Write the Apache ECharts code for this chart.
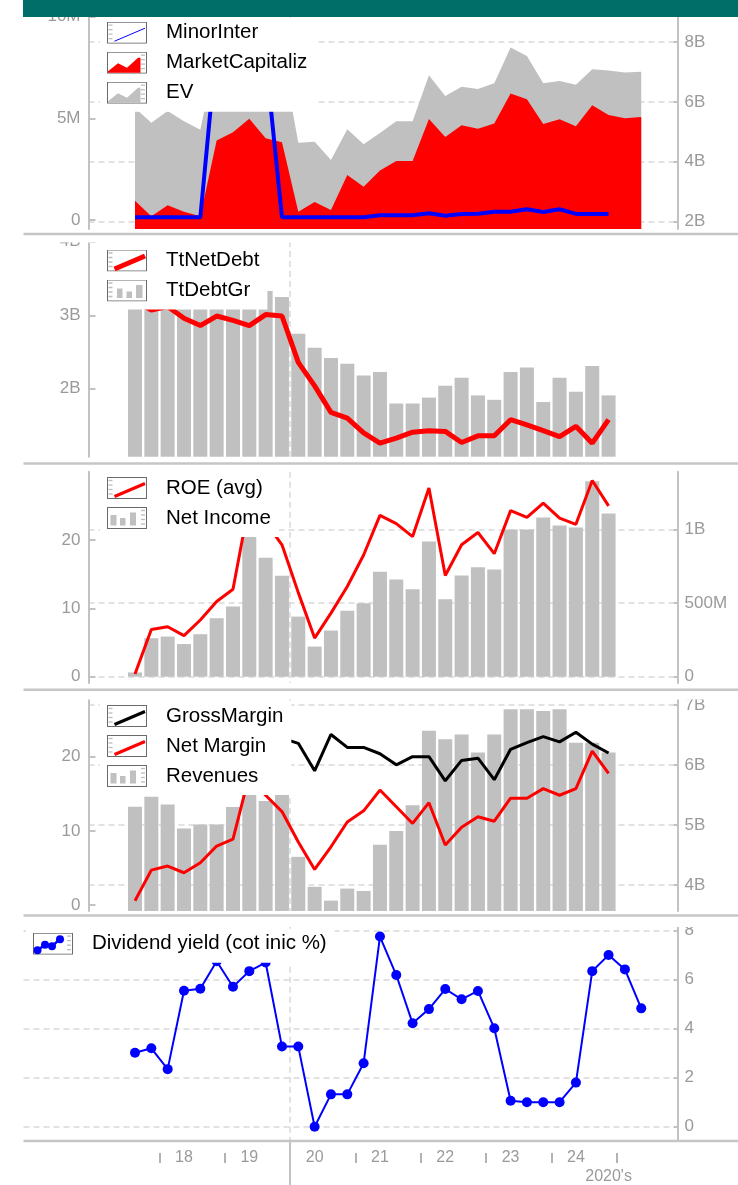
<!DOCTYPE html>
<html><head><meta charset="utf-8">
<script src="https://cdn.jsdelivr.net/npm/echarts@6/dist/echarts.min.js"></script>
<style>html,body{margin:0;padding:0;background:#fff}#c{width:738px;height:1185px}</style>
</head><body><div id="c"></div>
<script>
// ---------------- DATA ----------------
const quarters = ['2017Q3','2017Q4','2018Q1','2018Q2','2018Q3','2018Q4','2019Q1','2019Q2','2019Q3','2019Q4',
  '2020Q1','2020Q2','2020Q3','2020Q4','2021Q1','2021Q2','2021Q3','2021Q4','2022Q1','2022Q2','2022Q3','2022Q4',
  '2023Q1','2023Q2','2023Q3','2023Q4','2024Q1','2024Q2','2024Q3','2024Q4','2025Q1','2025Q2'];
// panel 1 (MinorInter in millions, others in billions)
const minorInter = [0.13,0.13,0.13,0.13,0.13,8.6,8.6,8.6,8.0,0.13,0.13,0.13,0.13,0.13,0.13,0.23,0.23,0.23,0.33,0.21,0.30,0.31,0.41,0.41,0.53,0.39,0.53,0.30,0.30,0.30];
const marketCap = [2.70,2.18,2.55,2.33,2.18,4.71,4.99,5.44,4.79,4.65,2.33,2.66,2.39,3.56,3.17,3.71,4.03,4.03,5.43,4.83,5.22,5.10,5.28,6.28,6.09,5.26,5.42,5.19,5.89,5.56,5.45,5.50];
const ev = [5.80,5.30,5.70,5.35,5.07,7.65,7.85,8.35,7.65,7.65,4.64,4.67,4.06,5.09,4.59,4.96,5.35,5.35,6.89,6.20,6.51,6.43,6.62,7.82,7.53,6.62,6.70,6.57,7.09,7.05,6.98,7.01];
// panel 2 (billions)
const netDebt = [3.20,3.07,3.12,2.96,2.86,2.99,2.93,2.86,3.01,2.99,2.36,2.04,1.68,1.60,1.40,1.26,1.33,1.41,1.43,1.42,1.27,1.36,1.36,1.58,1.51,1.43,1.35,1.49,1.26,1.58];
const grossDebt = [3.40,3.45,3.50,3.45,3.40,3.35,3.40,3.50,3.33,3.25,2.75,2.56,2.42,2.34,2.18,2.23,1.80,1.80,1.88,2.04,2.15,1.91,1.85,2.23,2.29,1.82,2.15,1.96,2.31,1.91];
// panel 3 (ROE %, net income billions)
const roe = [0.4,6.9,7.3,6.0,8.3,11.0,12.8,25.5,22.6,19.3,12.3,5.65,9.3,13.2,17.8,23.6,22.4,20.5,27.6,14.8,19.3,21.1,18.0,24.3,23.3,25.4,23.2,22.3,28.7,25.0];
const netIncome = [0.029,0.262,0.273,0.222,0.289,0.398,0.477,1.0,0.809,0.687,0.409,0.205,0.314,0.449,0.50,0.714,0.662,0.595,0.92,0.527,0.689,0.744,0.730,1.001,1.001,1.083,1.028,1.015,1.329,1.11];
// panel 4 (margins %, revenues billions)
const grossMargin = [23.0,23.5,24.0,23.2,22.8,23.0,24.0,25.0,24.0,22.5,21.8,18.1,23.0,21.25,21.25,20.4,18.9,20.0,20.0,16.75,19.5,19.8,16.9,21.0,21.9,22.7,22.0,23.3,21.7,20.5];
const netMargin = [0.58,4.7,5.25,4.35,5.7,7.95,8.9,17.5,14.8,12.6,8.5,4.8,7.85,11.2,12.7,15.5,13.25,11.0,13.8,8.1,10.5,11.9,11.3,14.4,14.4,15.7,14.8,15.7,20.75,17.75];
const revenues = [5.305,5.47,5.34,4.94,5.01,5.01,5.30,5.60,5.40,5.60,4.47,3.97,3.74,3.94,3.90,4.67,4.90,5.33,6.57,6.43,6.51,6.21,6.51,6.93,6.93,6.90,6.93,6.37,6.37,6.21];
// panel 5 (%)
const divYield = [3.02,3.2,2.35,5.55,5.63,6.75,5.71,6.35,6.7,3.27,3.27,0,1.32,1.32,2.59,7.76,6.19,4.22,4.8,5.62,5.2,5.54,4.02,1.06,1.0,1.0,1.0,1.8,6.35,7.01,6.42,4.83];
// tick values
const p1LeftTicks = [0,5,10], p1RightTicks = [2,4,6,8];
const p2Ticks = [2,3,4];
const p3LeftTicks = [0,10,20], p3RightTicks = [0,0.5,1];
const p4LeftTicks = [0,10,20], p4RightTicks = [4,5,6,7];
const p5Ticks = [0,2,4,6,8];
const decadeLabel = "2020's";

// ---------------- LAYOUT ----------------
const FONT = "'Liberation Sans', Arial, Helvetica, sans-serif";
const LBL = '#9a9a9a', AX = '#c2c2c2', GRIDC = '#d9d9d9';
const X0 = 135, DX = 16.33;            // pixel of first category and spacing
const L = 88.5, R = 677.6, L5 = 23.5;
const xr = (left) => ({min: (left - X0) / DX, max: (R - X0) / DX});
const pairs = arr => arr.map((v, i) => [i, v]);
const decadePos = quarters.indexOf('2020Q1') - 0.5;
const yearBounds = quarters.map((q,i)=>q.endsWith('Q1')? i-0.5 : null).filter(v=>v!==null && v!==decadePos);
const yearLabelPos = quarters.map((q,i)=>q.endsWith('Q2') && !q.startsWith('2017') && !q.startsWith('2025') ? i : null).filter(v=>v!==null);
const decadeLabelPos = quarters.indexOf('2024Q4');

const grids = [
  {left: L, width: R - L, top: 16, height: 213},
  {left: L, width: R - L, top: 241, height: 215.7},
  {left: L, width: R - L, top: 471.7, height: 211.3},
  {left: L, width: R - L, top: 698, height: 213},
  {left: L5, width: R - L5, top: 926.7, height: 213.3}
];

function hiddenX(gi, left) {
  const r = xr(left);
  return {type: 'value', gridIndex: gi, min: r.min, max: r.max, position: 'bottom',
    axisLine: {show: false, onZero: false}, axisLabel: {show: false},
    axisTick: {show: false, customValues: [decadePos]},
    splitLine: {show: true, lineStyle: {color: GRIDC, width: 1.5, type: [6, 4]}}};
}
function yAx(gi, pos, min, max, ticks, fmt, split) {
  return {type: 'value', gridIndex: gi, position: pos, min, max,
    axisLine: {show: true, onZero: false, lineStyle: {color: AX, width: 2}},
    axisTick: {show: true, inside: true, length: pos === 'left' ? 7 : 4, customValues: ticks, lineStyle: {color: AX, width: 2}},
    axisLabel: {customValues: ticks, formatter: fmt, color: LBL, fontSize: 17, fontFamily: FONT, margin: pos === 'left' ? 8 : 7},
    splitLine: {show: !!split, lineStyle: {color: GRIDC, width: 1.5, type: [6, 4]}}};
}
const fmtM = v => v === 0 ? '0' : v + 'M';
const fmtB = v => v === 0 ? '0' : v + 'B';
const fmtMB = v => v === 0 ? '0' : (v < 1 ? Math.round(v * 1000) + 'M' : v + 'B');
const fmtN = v => String(v);

function svgIcon(inner) {
  return 'image://data:image/svg+xml;charset=utf-8,' + encodeURIComponent(
    '<svg xmlns="http://www.w3.org/2000/svg" width="40" height="22" viewBox="0 0 40 22">' +
    '<rect x="0.5" y="0.5" width="39" height="21" fill="#fff" stroke="#6a6a6a" stroke-width="1"/>' + inner + '</svg>');
}
function rul(side) {
  const x1 = side === 'left' ? 1.5 : 34, x2 = x1 + 4; let s = '';
  [3.5, 8, 12.5, 17].forEach(y => s += `<line x1="${x1}" y1="${y}" x2="${x2}" y2="${y}" stroke="#bdbdbd" stroke-width="1.3"/>`);
  return s;
}
const lineIcon = (c, w) => svgIcon(rul('left') + `<line x1="7.5" y1="19.5" x2="38" y2="6.5" stroke="${c}" stroke-width="${w}"/>`);
const areaIcon = c => svgIcon(rul('right') + `<polygon points="1,21 1,19.5 11,11.5 20,16 31,6 33.5,6 33.5,21" fill="${c}"/>`);
const barIconR = c => svgIcon(rul('right') + `<rect x="3.5" y="8" width="6" height="10.5" fill="${c}"/><rect x="13" y="11" width="5.5" height="7.5" fill="${c}"/><rect x="23" y="5.5" width="6" height="13" fill="${c}"/>`);
const barIconL = c => svgIcon(rul('left') + `<rect x="10" y="9" width="5.5" height="9.5" fill="${c}"/><rect x="19.5" y="12" width="5.5" height="6.5" fill="${c}"/><rect x="29" y="5.5" width="6.5" height="13" fill="${c}"/>`);
const dotIcon = c => svgIcon(rul('right') + `<polyline points="4,18 12,12 19,14 27,6" fill="none" stroke="${c}" stroke-width="2.5"/>` +
  `<circle cx="4.5" cy="17.5" r="4" fill="${c}"/><circle cx="12" cy="12" r="4" fill="${c}"/><circle cx="19" cy="13.5" r="4" fill="${c}"/><circle cx="27" cy="6.5" r="4" fill="${c}"/>`);

function legend(items, left, top) {
  return {data: items, orient: 'vertical', left, top, padding: [4, 8, 8, 7], itemGap: 8,
    itemWidth: 40, itemHeight: 22, backgroundColor: '#fff', selectedMode: false,
    textStyle: {fontSize: 20.5, color: '#000', fontFamily: FONT, padding: [0, 0, 0, 14], lineHeight: 22}};
}

const BLUE = '#0000ff', RED = '#ff0000', GREY = '#c0c0c0';
const xLbl = {color: LBL, fontSize: 16, fontFamily: FONT};

const option = {
  animation: false,
  backgroundColor: '#fff',
  grid: grids,
  xAxis: [
    hiddenX(0, L), hiddenX(1, L), hiddenX(2, L), hiddenX(3, L),
    Object.assign(hiddenX(4, L5), {axisLabel: Object.assign({show: true, customValues: yearLabelPos,
      formatter: v => quarters[v].slice(2, 4), margin: 10}, xLbl)}),
    {type: 'value', gridIndex: 4, ...xr(L5), position: 'bottom', offset: 13, axisLine: {show: false, onZero: false},
      axisTick: {show: true, customValues: yearBounds, length: 10, lineStyle: {color: LBL, width: 1.5}},
      axisLabel: {show: false}, splitLine: {show: false}},
    {type: 'value', gridIndex: 4, ...xr(L5), position: 'bottom', axisLine: {show: false, onZero: false},
      axisTick: {show: true, customValues: [decadePos], length: 45, lineStyle: {color: AX, width: 2}},
      axisLabel: Object.assign({show: true, customValues: [decadeLabelPos], formatter: () => decadeLabel, margin: 29}, xLbl),
      splitLine: {show: false}}
  ],
  yAxis: [
    yAx(0, 'left', -9 / 20.34, 204 / 20.34, p1LeftTicks, fmtM, false),
    yAx(0, 'right', 2 - 7.3 / 29.95, 2 + 205.7 / 29.95, p1RightTicks, fmtB, true),
    yAx(1, 'left', 3 - 141.4 / 73.5, 3 + 74.3 / 73.5, p2Ticks, fmtB, false),
    yAx(2, 'left', -6.3 / 6.835, 205 / 6.835, p3LeftTicks, fmtN, false),
    yAx(2, 'right', -6.3 / 147, 205 / 147, p3RightTicks, fmtMB, true),
    yAx(3, 'left', -6 / 7.415, 207 / 7.415, p4LeftTicks, fmtN, false),
    yAx(3, 'right', 4 - 26 / 60, 4 + 187 / 60, p4RightTicks, fmtB, true),
    yAx(4, 'right', -13.3 / 24.5, 200 / 24.5, p5Ticks, fmtN, true)
  ],
  legend: [
    legend([{name: 'MinorInter', icon: lineIcon(BLUE, 1)}, {name: 'MarketCapitaliz', icon: areaIcon(RED)}, {name: 'EV', icon: areaIcon(GREY)}], 100, 17.7),
    legend([{name: 'TtNetDebt', icon: lineIcon(RED, 5)}, {name: 'TtDebtGr', icon: barIconL(GREY)}], 100, 245.5),
    legend([{name: 'ROE (avg)', icon: lineIcon(RED, 3)}, {name: 'Net Income', icon: barIconR(GREY)}], 100, 473),
    legend([{name: 'GrossMargin', icon: lineIcon('#000', 3)}, {name: 'Net Margin', icon: lineIcon(RED, 3)}, {name: 'Revenues', icon: barIconR(GREY)}], 100, 701),
    legend([{name: 'Dividend yield (cot inic %)', icon: dotIcon(BLUE)}], 26, 928.7)
  ],
  series: [
    {name: 'EV', type: 'line', xAxisIndex: 0, yAxisIndex: 1, data: pairs(ev), symbol: 'none', color: GREY,
      lineStyle: {width: 0}, areaStyle: {color: GREY, opacity: 1, origin: 'start'}},
    {name: 'MarketCapitaliz', type: 'line', xAxisIndex: 0, yAxisIndex: 1, data: pairs(marketCap), symbol: 'none', color: RED,
      lineStyle: {width: 0}, areaStyle: {color: RED, opacity: 1, origin: 'start'}},
    {name: 'MinorInter', type: 'line', xAxisIndex: 0, yAxisIndex: 0, data: pairs(minorInter), symbol: 'none', color: BLUE,
      lineStyle: {width: 4, color: BLUE}},
    {name: 'TtDebtGr', type: 'bar', xAxisIndex: 1, yAxisIndex: 2, data: pairs(grossDebt), barWidth: 14, color: GREY, itemStyle: {color: GREY}},
    {name: 'TtNetDebt', type: 'line', xAxisIndex: 1, yAxisIndex: 2, data: pairs(netDebt), symbol: 'none', color: RED,
      lineStyle: {width: 5, color: RED}},
    {name: 'Net Income', type: 'bar', xAxisIndex: 2, yAxisIndex: 4, data: pairs(netIncome), barWidth: 14, color: GREY, itemStyle: {color: GREY}},
    {name: 'ROE (avg)', type: 'line', xAxisIndex: 2, yAxisIndex: 3, data: pairs(roe), symbol: 'none', color: RED,
      lineStyle: {width: 3, color: RED}},
    {name: 'Revenues', type: 'bar', xAxisIndex: 3, yAxisIndex: 6, data: pairs(revenues), barWidth: 14, color: GREY, itemStyle: {color: GREY}},
    {name: 'GrossMargin', type: 'line', xAxisIndex: 3, yAxisIndex: 5, data: pairs(grossMargin), symbol: 'none', color: '#000',
      lineStyle: {width: 3, color: '#000'}},
    {name: 'Net Margin', type: 'line', xAxisIndex: 3, yAxisIndex: 5, data: pairs(netMargin), symbol: 'none', color: RED,
      lineStyle: {width: 3, color: RED}},
    {name: 'Dividend yield (cot inic %)', type: 'line', xAxisIndex: 4, yAxisIndex: 7, data: pairs(divYield), symbol: 'circle',
      symbolSize: 10, color: BLUE, itemStyle: {color: BLUE}, lineStyle: {width: 2, color: BLUE}}
  ],
  graphic: [
    {type: 'rect', z: 100, shape: {x: 0, y: 234.5, width: 738, height: 8}, style: {fill: '#fff'}},
    {type: 'rect', z: 100, shape: {x: 0, y: 690.5, width: 738, height: 9}, style: {fill: '#fff'}},
    {type: 'rect', z: 100, shape: {x: 0, y: 915.5, width: 738, height: 11.5}, style: {fill: '#fff'}},
    {type: 'rect', z: 101, shape: {x: 23, y: 0, width: 715, height: 17}, style: {fill: '#006e68'}},
    {type: 'line', z: 101, shape: {x1: 23.5, y1: 234, x2: 738, y2: 234}, style: {stroke: '#c6c6c6', lineWidth: 2.5}},
    {type: 'line', z: 101, shape: {x1: 23.5, y1: 463.5, x2: 738, y2: 463.5}, style: {stroke: '#c6c6c6', lineWidth: 2.5}},
    {type: 'line', z: 101, shape: {x1: 23.5, y1: 689.8, x2: 738, y2: 689.8}, style: {stroke: '#c6c6c6', lineWidth: 2.5}},
    {type: 'line', z: 101, shape: {x1: 23.5, y1: 915.5, x2: 738, y2: 915.5}, style: {stroke: '#c6c6c6', lineWidth: 2.5}},
    {type: 'line', z: 101, shape: {x1: 23.5, y1: 1141, x2: 738, y2: 1141}, style: {stroke: '#c6c6c6', lineWidth: 2.5}}
  ]
};
const chart = echarts.init(document.getElementById('c'), null, {renderer: 'canvas'});
chart.setOption(option);
</script>
</body></html>
